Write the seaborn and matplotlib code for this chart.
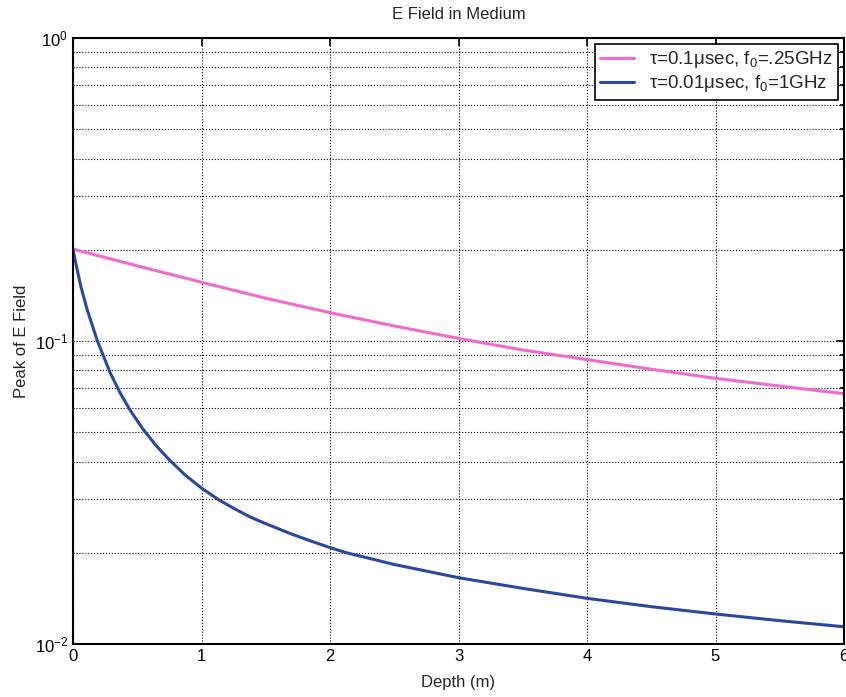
import matplotlib
matplotlib.use("Agg")
import matplotlib.pyplot as plt
import seaborn as sns
import pandas as pd
import numpy as np
from matplotlib.ticker import LogLocator, NullFormatter

sns.set_style("white")
plt.rcParams['font.family'] = ['Liberation Sans', 'DejaVu Sans']
plt.rcParams['mathtext.fontset'] = 'custom'
plt.rcParams['mathtext.rm'] = 'Liberation Sans'
plt.rcParams['mathtext.it'] = 'Liberation Sans'

# Data
depth_pink = [0.0, 0.5, 1.0, 1.5, 2.0, 2.5, 3.0, 3.5, 4.0, 4.5, 5.0, 5.5, 6.0]
field_pink = [0.201, 0.177, 0.1563, 0.1384, 0.1240, 0.1121, 0.1020, 0.0934, 0.0868, 0.0807, 0.0753, 0.0710, 0.0670]

depth_blue = [0.0, 0.03, 0.06, 0.11, 0.19, 0.29, 0.37, 0.45, 0.549, 0.65, 0.743, 0.87, 1.0, 1.13,
              1.25, 1.38, 1.5, 1.7, 1.85, 2.0, 2.13, 2.5, 3.0, 3.5, 4.0, 4.5, 5.0, 5.5, 6.0]
field_blue = [0.200, 0.174, 0.152, 0.127, 0.100, 0.0784, 0.0670, 0.0586, 0.0509, 0.0450, 0.0408, 0.0362, 0.0327, 0.0300,
              0.02805, 0.02624, 0.02495, 0.02307, 0.02188, 0.0208, 0.0200, 0.0183, 0.01655, 0.01526, 0.01415,
              0.01328, 0.01256, 0.01194, 0.0114]

label_pink = r'$\tau$=0.1$\mu$sec, f$_0$=.25GHz'
label_blue = r'$\tau$=0.01$\mu$sec, f$_0$=1GHz'

df = pd.concat([
    pd.DataFrame({'Depth': depth_pink, 'E': field_pink, 'series': label_pink}),
    pd.DataFrame({'Depth': depth_blue, 'E': field_blue, 'series': label_blue}),
])

fig = plt.figure(figsize=(8.46, 6.97), dpi=100)
ax = fig.add_axes([73/846, 1-644/697, (844-73)/846, (644-38)/697])

palette = {label_pink: '#f06ad0', label_blue: '#2a48a0'}
sns.lineplot(data=df, x='Depth', y='E', hue='series', palette=palette, ax=ax,
             linewidth=2.2, sort=False, estimator=None)
for ln in ax.get_lines():
    ln.set_solid_joinstyle('round')

ax.set_yscale('log')
ax.set_xlim(0, 6)
ax.set_ylim(1e-2, 1e0)
ax.set_xticks([0, 1, 2, 3, 4, 5, 6])
ax.yaxis.set_major_locator(LogLocator(base=10, numticks=10))
ax.yaxis.set_minor_locator(LogLocator(base=10, subs=np.arange(2, 10), numticks=20))
ax.yaxis.set_minor_formatter(NullFormatter())

ax.grid(True, which='major', axis='both', color='black', linestyle=':', linewidth=0.8)
ax.grid(True, which='minor', axis='y', color='black', linestyle=':', linewidth=0.8)

ax.tick_params(axis='both', which='both', direction='in', top=True, right=True,
               labelsize=12, colors='black')
ax.tick_params(axis='both', which='major', length=6, width=1.2)
ax.tick_params(axis='y', which='minor', length=3, width=1.2)
for s in ax.spines.values():
    s.set_color('black')
    s.set_linewidth(1.5)

ax.set_xlabel('Depth (m)', fontsize=12, labelpad=8)
ax.set_ylabel('Peak of E Field', fontsize=12, labelpad=4)
ax.set_title('E Field in Medium', fontsize=12, pad=14)

leg = ax.legend(loc='upper right', fontsize=13.5, frameon=True, fancybox=False,
                edgecolor='black', framealpha=1, borderaxespad=0.3,
                handlelength=1.8, labelspacing=0.15, borderpad=0.3)
leg.get_frame().set_linewidth(1.2)

fig.savefig('out.png', dpi=100)
